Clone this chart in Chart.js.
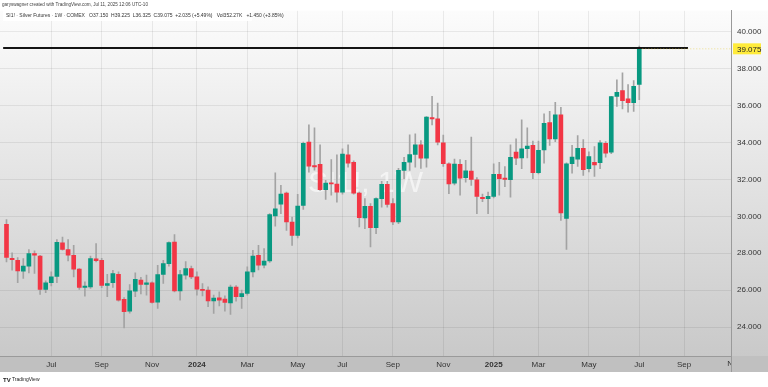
<!DOCTYPE html>
<html>
<head>
<meta charset="utf-8">
<script src="https://cdn.jsdelivr.net/npm/chart.js@4.4.1/dist/chart.umd.min.js"></script>
<style>
  html, body { margin: 0; padding: 0; background: #fff; }
  #wrap { width: 768px; height: 387px; }
</style>
</head>
<body>
<div id="wrap"><canvas id="chart" width="768" height="387"></canvas></div>
<script>
// SI1! weekly candles, week 0 = 2023-05-08
const opens = [
  29.57, 27.72, 27.62, 27.03, 27.30, 27.98, 27.84, 26.04, 26.40, 26.74,
  28.56, 28.20, 27.89, 27.14, 26.15, 26.18, 27.69, 27.62, 26.25, 26.40,
  26.86, 25.50, 24.86, 25.95, 26.54, 26.31, 26.40, 25.35, 26.85, 27.44,
  28.61, 25.96, 26.81, 27.17, 26.72, 26.05, 26.00, 25.41, 25.58, 25.51,
  25.31, 26.16, 25.64, 25.82, 26.99, 27.89, 27.35, 27.58, 30.02, 30.66,
  31.26, 29.69, 28.97, 30.59, 34.02, 32.75, 32.81, 31.44, 31.82, 31.75,
  31.31, 33.33, 32.93, 31.26, 29.91, 30.54, 29.39, 30.96, 31.73, 30.69,
  29.69, 32.49, 32.93, 33.35, 33.87, 33.15, 35.35, 35.28, 33.98, 32.85,
  31.80, 32.81, 32.09, 32.45, 31.98, 31.03, 30.96, 31.08, 32.27, 32.07,
  31.98, 33.48, 33.17, 33.66, 33.84, 32.36, 33.60, 35.08, 34.20, 35.50,
  29.88, 32.85, 33.10, 33.69, 32.58, 32.93, 32.90, 33.96, 33.48, 36.49,
  36.81, 36.36, 36.16, 37.15
];
const highs = [
  29.82, 28.02, 27.77, 27.71, 28.20, 28.13, 27.89, 26.50, 26.99, 28.74,
  28.88, 28.74, 28.43, 27.17, 26.45, 27.84, 28.52, 27.73, 26.86, 27.08,
  26.99, 25.60, 26.30, 26.94, 26.70, 26.81, 26.45, 27.35, 27.62, 28.62,
  29.01, 27.08, 27.55, 27.30, 26.99, 26.36, 26.18, 25.73, 25.91, 25.69,
  26.27, 26.25, 26.00, 27.26, 28.16, 28.43, 28.25, 30.15, 32.36, 31.68,
  31.31, 29.96, 31.19, 34.02, 34.96, 34.80, 33.87, 31.95, 33.08, 33.33,
  33.66, 33.87, 33.00, 31.31, 30.96, 30.69, 31.00, 31.89, 31.90, 30.96,
  32.60, 33.20, 34.42, 34.47, 34.10, 35.40, 36.50, 36.14, 34.40, 32.90,
  33.10, 33.08, 33.03, 34.29, 32.10, 31.20, 31.31, 32.85, 32.93, 32.70,
  33.87, 34.20, 35.23, 34.79, 34.07, 34.07, 35.55, 35.69, 36.18, 35.91,
  32.90, 33.84, 34.38, 34.16, 33.50, 33.78, 34.11, 34.05, 36.50, 37.39,
  37.77, 37.14, 37.35, 39.225
];
const lows = [
  27.53, 27.08, 26.40, 26.63, 26.94, 26.90, 25.77, 25.86, 26.23, 26.40,
  28.16, 27.58, 26.72, 26.04, 25.68, 26.10, 27.53, 26.14, 25.64, 26.15,
  25.40, 23.95, 24.75, 25.64, 25.80, 25.73, 25.30, 25.01, 26.36, 27.30,
  25.90, 25.46, 26.60, 26.62, 25.73, 25.69, 25.10, 24.74, 25.15, 24.86,
  24.69, 25.40, 25.01, 25.73, 26.72, 27.10, 27.20, 27.50, 29.46, 30.15,
  29.24, 28.43, 28.83, 30.38, 32.39, 32.50, 31.40, 30.92, 31.14, 30.77,
  31.20, 32.66, 31.20, 29.42, 29.33, 28.34, 29.06, 30.50, 30.50, 29.55,
  29.60, 32.04, 32.49, 32.66, 32.60, 32.66, 34.95, 33.87, 32.70, 31.23,
  31.70, 31.14, 31.85, 31.68, 30.15, 30.80, 30.15, 31.00, 31.14, 31.60,
  31.04, 32.80, 32.58, 33.17, 32.04, 32.30, 32.88, 33.84, 34.05, 29.78,
  28.20, 32.34, 32.70, 32.22, 32.40, 32.16, 32.58, 33.20, 33.40, 35.95,
  35.82, 35.64, 35.68, 36.325
];
const closes = [
  27.77, 27.65, 27.04, 27.31, 27.98, 27.89, 26.04, 26.40, 26.72, 28.59,
  28.20, 27.89, 27.14, 26.15, 26.22, 27.71, 27.60, 26.25, 26.36, 26.90,
  25.46, 24.83, 25.96, 26.59, 26.31, 26.40, 25.34, 26.85, 27.44, 28.58,
  25.96, 26.85, 27.17, 26.72, 26.05, 25.98, 25.41, 25.57, 25.46, 25.34,
  26.16, 25.64, 25.82, 26.99, 27.85, 27.35, 27.58, 30.09, 30.41, 31.21,
  29.69, 28.97, 30.56, 33.96, 32.72, 32.68, 31.44, 31.80, 31.75, 31.31,
  33.37, 32.88, 31.26, 29.93, 30.54, 29.39, 30.96, 31.73, 30.65, 29.69,
  32.49, 32.93, 33.35, 33.87, 33.15, 35.37, 35.28, 34.02, 32.85, 31.75,
  32.83, 32.07, 32.47, 32.00, 31.08, 30.96, 31.08, 32.27, 32.04, 32.00,
  33.19, 33.15, 33.66, 33.80, 32.36, 33.57, 35.04, 34.20, 35.50, 30.18,
  32.85, 33.21, 33.69, 32.53, 33.24, 32.79, 33.98, 33.42, 36.49, 36.72,
  36.27, 36.16, 37.04, 39.075
];

// axis labels (week index of first bar in the month)
const xTickWeeks = [8, 17, 26, 34, 43, 52, 60, 69, 78, 87, 95, 104, 113, 121, 130];
const xTickLabels = ["Jul", "Sep", "Nov", "2024", "Mar", "May", "Jul", "Sep", "Nov", "2025", "Mar", "May", "Jul", "Sep", "Nov"];
const yTicks = [24, 26, 28, 30, 32, 34, 36, 38, 40];

// user drawn horizontal line
const hLineLevel = 39.12;
const hLineWeeks = [-0.6, 121.7];

const UP = "#089981";
const DOWN = "#f23645";
const X_MIN = -1.16, X_MAX = 129.38;

const weeks = closes.map((c, i) => i);
const bodyData = weeks.map(i => ({ x: i, y: [opens[i], closes[i]] }));
const wickData = weeks.map(i => ({ x: i, y: [lows[i], highs[i]] }));
const bodyColors = weeks.map(i => closes[i] >= opens[i] ? UP : DOWN);

/* -----------------------------------------------
   background, watermark, header and price label
------------------------------------------------ */
const tvDecor = {
  id: "tvDecor",
  beforeDraw(chart) {
    const { ctx, chartArea } = chart;
    ctx.save();
    ctx.fillStyle = "#ffffff";
    ctx.fillRect(0, 0, chart.width, chart.height);
    const g = ctx.createLinearGradient(0, chartArea.top, 0, chartArea.bottom);
    g.addColorStop(0, "#fcfcfc");
    g.addColorStop(1, "#c9c9c9");
    ctx.fillStyle = g;
    ctx.fillRect(0, chartArea.top, chart.width, chartArea.bottom - chartArea.top);
    // time axis strip
    ctx.fillStyle = "#c0c0c0";
    ctx.fillRect(0, chartArea.bottom, chart.width, chart.scales.x.height);
    ctx.restore();
  },
  beforeDatasetsDraw(chart) {
    const { ctx, chartArea } = chart;
    ctx.save();
    ctx.font = "30px 'Liberation Sans', Arial, sans-serif";
    ctx.fillStyle = "rgba(255,255,255,0.6)";
    ctx.textAlign = "center";
    ctx.textBaseline = "middle";
    ctx.fillText("SI1!, 1W", (chartArea.left + chartArea.right) / 2, (chartArea.top + chartArea.bottom) / 2);
    ctx.restore();
  },
  afterDraw(chart) {
    const { ctx, chartArea, scales } = chart;
    const last = closes.length - 1;
    const yLast = scales.y.getPixelForValue(closes[last]);
    ctx.save();

    // last price line
    ctx.strokeStyle = "rgba(230,200,40,0.5)";
    ctx.setLineDash([1, 2]);
    ctx.lineWidth = 1;
    ctx.beginPath();
    ctx.moveTo(scales.x.getPixelForValue(last) + 3, yLast);
    ctx.lineTo(chartArea.right, yLast);
    ctx.stroke();
    ctx.setLineDash([]);

    // axis border continues through the time strip
    ctx.strokeStyle = "#9a9a9a";
    ctx.beginPath();
    ctx.moveTo(chartArea.right + 0.5, chartArea.bottom);
    ctx.lineTo(chartArea.right + 0.5, chartArea.bottom + scales.x.height);
    ctx.stroke();

    // yellow price label
    ctx.fillStyle = "#ffeb3b";
    ctx.fillRect(chartArea.right + 2, yLast - 5.5, 28, 11);
    ctx.fillStyle = "#222";
    ctx.font = "8px 'Liberation Sans', Arial, sans-serif";
    ctx.textBaseline = "middle";
    ctx.textAlign = "left";
    ctx.fillText(closes[last].toFixed(3), chartArea.right + 6, yLast + 0.5);

    // clipped time labels past the right edge
    ctx.save();
    ctx.beginPath();
    ctx.rect(chartArea.left, chartArea.bottom, chartArea.right - chartArea.left, scales.x.height);
    ctx.clip();
    ctx.fillStyle = "#333";
    ctx.textAlign = "center";
    xTickWeeks.forEach((w, k) => {
      if (w <= X_MAX) return;
      ctx.fillText(xTickLabels[k], scales.x.getPixelForValue(w), chartArea.bottom + 8);
    });
    ctx.restore();

    // header
    ctx.textAlign = "left";
    ctx.fillStyle = "#444";
    ctx.font = "4.6px 'Liberation Sans', Arial, sans-serif";
    ctx.fillText("garyswagner created with TradingView.com, Jul 11, 2025 12:06 UTC-10", 2, 5);
    ctx.fillStyle = "rgba(255,255,255,0.95)";
    ctx.fillRect(3, 10, 249, 11);
    ctx.fillStyle = "#333";
    ctx.font = "5px 'Liberation Sans', Arial, sans-serif";
    ctx.fillText("SI1! \u00b7 Silver Futures \u00b7 1W \u00b7 COMEX   O37.150  H39.225  L36.325  C39.075  +2.035 (+5.49%)   Vol352.27K   +1.450 (+3.85%)", 6, 16);

    // footer logo
    ctx.fillStyle = "#222";
    ctx.font = "bold 6px 'Liberation Sans', Arial, sans-serif";
    ctx.fillText("TV", 3, 380);
    ctx.font = "5px 'Liberation Sans', Arial, sans-serif";
    ctx.fillText("TradingView", 12, 380);
    ctx.restore();
  }
};

new Chart(document.getElementById("chart"), {
  type: "bar",
  data: {
    datasets: [
      {
        type: "line",
        data: hLineWeeks.map(w => ({ x: w, y: hLineLevel })),
        borderColor: "#141414",
        borderWidth: 2,
        pointRadius: 0,
        order: -1
      },
      {
        data: bodyData,
        backgroundColor: bodyColors,
        barThickness: 4,
        minBarLength: 1,
        grouped: false,
        order: 0
      },
      {
        data: wickData,
        backgroundColor: "#a3a3a3",
        barThickness: 1,
        grouped: false,
        order: 1
      }
    ]
  },
  options: {
    responsive: false,
    animation: false,
    layout: { padding: { top: 10, bottom: 15, left: 0, right: 0 } },
    plugins: { legend: { display: false }, tooltip: { enabled: false } },
    scales: {
      x: {
        type: "linear",
        min: X_MIN,
        max: X_MAX,
        offset: false,
        afterBuildTicks: s => { s.ticks = xTickWeeks.filter(w => w <= X_MAX).map(v => ({ value: v })); },
        afterFit: s => { s.height = 16; },
        grid: { color: "rgba(0,0,0,0.07)", drawTicks: false, offset: false },
        border: { color: "#9a9a9a" },
        ticks: {
          autoSkip: false,
          maxRotation: 0,
          padding: 4,
          color: "#333",
          font: c => ({
            family: "'Liberation Sans', Arial, sans-serif",
            size: 8,
            weight: c.tick && String(xTickLabels[xTickWeeks.indexOf(c.tick.value)]).match(/^\d+$/) ? "bold" : "normal"
          }),
          callback: v => xTickLabels[xTickWeeks.indexOf(v)]
        }
      },
      y: {
        position: "right",
        min: 22.432,
        max: 41.135,
        afterBuildTicks: s => { s.ticks = yTicks.map(v => ({ value: v })); },
        afterFit: s => { s.width = 37; },
        grid: { color: "rgba(0,0,0,0.07)", drawTicks: false },
        border: { color: "#9a9a9a" },
        ticks: {
          padding: 6,
          color: "#333",
          font: { family: "'Liberation Sans', Arial, sans-serif", size: 8 },
          callback: v => v.toFixed(3)
        }
      }
    }
  },
  plugins: [tvDecor]
});
</script>
</body>
</html>
